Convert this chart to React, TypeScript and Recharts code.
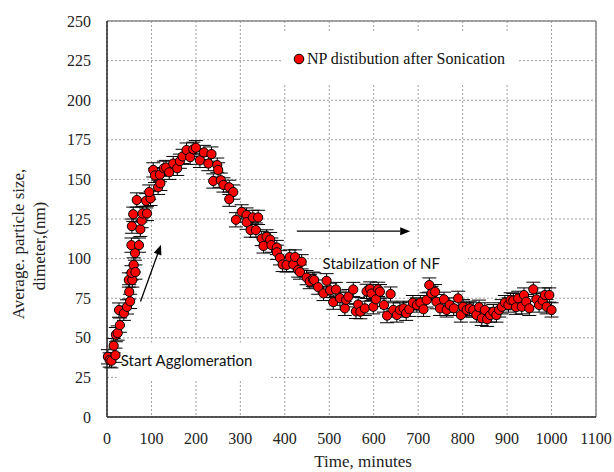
import React from 'react';
import {
  ScatterChart,
  Scatter,
  XAxis,
  YAxis,
  CartesianGrid,
  ErrorBar,
  ReferenceLine,
  ReferenceArea,
  Legend,
  Label,
} from 'recharts';

// ---- data ----
const timeMin = [
  2, 6, 10, 15, 19, 20, 24, 27, 29, 38, 45, 52, 50, 49, 57, 55, 60, 64, 63, 55, 72, 56, 75, 78, 59, 80, 90, 67, 88, 98, 95,
  104, 108, 115, 120, 119, 128, 133, 140, 149, 158, 164, 170, 179, 187, 194, 200, 209,
  218, 228, 235, 239, 248, 250, 256, 262, 275, 284, 275, 290,
  303, 314, 314, 328, 340, 323, 335, 348, 359, 367, 352, 370, 382, 382, 389, 395,
  404, 411, 419, 423, 430, 434, 438, 449, 456, 463, 466, 475, 487, 494,
  502, 509, 515, 524, 535, 538, 543, 554, 560, 565, 570, 580, 584, 592, 595, 599,
  605, 610, 614, 623, 630, 638, 644, 652, 659, 667, 673, 680, 688, 697,
  705, 712, 719, 725, 730, 738, 741, 749, 758, 764, 771, 780, 790, 796,
  801, 809, 816, 824, 831, 837, 843, 850, 855, 862, 869, 876, 882, 888, 895,
  903, 908, 914, 920, 925, 933, 938, 943, 950, 959, 966, 972, 980, 985, 989, 995, 1000,
];
const sizeNm = [
  38, 36, 35.5, 45, 39, 52, 53, 67.5, 58, 65.5, 69.5, 73, 79, 86.5, 86.5, 91, 96, 91.5, 103.5, 108.5, 108.5, 120.5, 118.5, 124, 128, 128.5, 128.5, 137, 136.5, 138, 142,
  156, 152.5, 145, 147.5, 153, 157, 157.5, 154.5, 160, 157, 161.5, 164.5, 168.5, 164, 169, 170, 162,
  167, 160, 166, 149, 159, 156, 149.5, 146.5, 145, 142, 137.5, 124.5,
  129.5, 127.5, 123, 126, 126, 118, 118, 112.7, 113.7, 112, 108, 108.5, 107, 104, 100.5, 96.3,
  96, 101, 96.3, 101, 92.8, 91.5, 98, 88, 85.5, 87, 86.5, 82, 78, 86,
  80, 72.5, 80.5, 75, 68.6, 74, 76, 80.5, 66.7, 71, 66.5, 68.6, 79.3, 80.8, 78, 69.6,
  74.3, 80.6, 79.1, 70.7, 64, 77.6, 67.6, 64.4, 67.6, 68.6, 65.5, 68, 72.2, 70.7,
  72.2, 68, 73.9, 83.3, 78, 79.1, 72.8, 68.6, 74.3, 67.6, 70.7, 68.6, 74.9, 64.4,
  69.6, 67.6, 68.6, 67.6, 64.4, 69.3, 62.3, 67.6, 61.7, 64.4, 66.5, 64.4, 67.6, 69.6, 72.2,
  70.7, 73.9, 73.5, 69.3, 74.9, 69.6, 77, 72.8, 68.6, 80.6, 74.3, 70.7, 73.5, 77, 69.6, 77, 67.6,
];
const errorNm = 4.5;
const xTicks = [0, 100, 200, 300, 400, 500, 600, 700, 800, 900, 1000, 1100];
const yTicks = [0, 25, 50, 75, 100, 125, 150, 175, 200, 225, 250];
const seriesName = 'NP distibution after Sonication';
const xTitle = 'Time, minutes';
const yTitleLines = ['Average. particle size,', 'dimeter,(nm)'];
const noteStart = 'Start Agglomeration';
const noteStable = 'Stabilzation of NF';

const data = timeMin.map((t, i) => ({ t, v: sizeNm[i], e: errorNm }));

const SERIF = 'Liberation Serif, serif';
const SANS = 'Lato, sans-serif';

const Dot = (p: any) => (
  <circle cx={p.cx} cy={p.cy} r={4.6} fill="#ff0000" stroke="#000" strokeWidth={1} />
);

const Arrow = (p: any) => {
  const { x1, y1, x2, y2 } = p;
  const ang = Math.atan2(y2 - y1, x2 - x1);
  const L = 10;
  const W = 4;
  const bx = x2 - L * Math.cos(ang);
  const by = y2 - L * Math.sin(ang);
  const px = -Math.sin(ang) * W;
  const py = Math.cos(ang) * W;
  return (
    <g>
      <line x1={x1} y1={y1} x2={bx} y2={by} stroke="#000" strokeWidth={1.3} />
      <polygon points={`${x2},${y2} ${bx + px},${by + py} ${bx - px},${by - py}`} fill="#000" />
    </g>
  );
};

const LegendBox = () => (
  <div style={{ width: '100%', height: '100%', background: '#fff', position: 'relative' }}>
    <svg width={14} height={14} style={{ position: 'absolute', left: 10, top: 19 }}>
      <circle cx={7} cy={7} r={4.8} fill="#ff0000" stroke="#000" strokeWidth={1} />
    </svg>
    <span
      style={{
        position: 'absolute',
        left: 25,
        top: 16,
        fontFamily: SERIF,
        fontSize: 16,
        lineHeight: '20px',
        whiteSpace: 'nowrap',
        color: '#111',
      }}
    >
      {seriesName}
    </span>
  </div>
);

export default function App() {
  return (
    <div style={{ position: 'absolute', left: 0, top: 0, width: 614, height: 472, background: '#fff' }}>
      <ScatterChart width={614} height={472} margin={{ top: 21, right: 18, bottom: 25, left: 47 }}>
        <CartesianGrid stroke="#a0a0a0" strokeDasharray="2 2" />
        <XAxis
          type="number"
          dataKey="t"
          domain={[0, 1100]}
          ticks={xTicks}
          interval={0}
          height={30}
          tickLine={false}
          tickSize={0}
          tickMargin={16}
          axisLine={{ stroke: '#222', strokeWidth: 1.5 }}
          tick={{ fontSize: 16, fontFamily: SERIF, fill: '#222' }}
        >
          <Label
            content={() => (
              <text x={363} y={467} textAnchor="middle" fontFamily={SERIF} fontSize={17} fill="#222">
                {xTitle}
              </text>
            )}
          />
        </XAxis>
        <YAxis
          type="number"
          dataKey="v"
          domain={[0, 250]}
          ticks={yTicks}
          interval={0}
          width={60}
          tickLine={false}
          tickSize={0}
          tickMargin={16}
          axisLine={{ stroke: '#222', strokeWidth: 1.5 }}
          tick={{ fontSize: 16, fontFamily: SERIF, fill: '#222' }}
        >
          <Label
            content={() => (
              <g fontFamily={SERIF} fontSize={17} fill="#222">
                <text transform="translate(24,244) rotate(-90)" textAnchor="middle">
                  {yTitleLines[0]}
                </text>
                <text transform="translate(45,246) rotate(-90)" textAnchor="middle">
                  {yTitleLines[1]}
                </text>
              </g>
            )}
          />
        </YAxis>
        <ReferenceLine y={250} stroke="#888" strokeWidth={1.5} />
        <ReferenceLine x={1100} stroke="#888" strokeWidth={1.5} />
        <ReferenceArea
          x1={22}
          x2={367}
          y1={24}
          y2={47}
          fill="#fff"
          fillOpacity={1}
          stroke="none"
          label={{ value: noteStart, position: 'insideLeft', offset: 4, fill: '#111', fontSize: 15, fontFamily: SANS }}
        />
        <ReferenceArea
          x1={485}
          x2={812}
          y1={87}
          y2={107}
          fill="#fff"
          fillOpacity={1}
          stroke="none"
          label={{ value: noteStable, position: 'insideLeft', offset: 0, fill: '#111', fontSize: 15, fontFamily: SANS }}
        />
        <ReferenceLine segment={[{ x: 75.4, y: 72.9 }, { x: 121.5, y: 108.8 }]} shape={Arrow} ifOverflow="visible" />
        <ReferenceLine segment={[{ x: 427, y: 117.3 }, { x: 682, y: 117.3 }]} shape={Arrow} ifOverflow="visible" />
        <Legend
          layout="vertical"
          align="center"
          verticalAlign="middle"
          content={LegendBox}
          wrapperStyle={{ position: 'absolute', left: 282, top: 33, width: 236, height: 52 }}
        />
        <Scatter name={seriesName} data={data} shape={Dot} isAnimationActive={false}>
          <ErrorBar dataKey="e" direction="y" width={7} stroke="#000" strokeWidth={1} />
        </Scatter>
      </ScatterChart>
    </div>
  );
}
